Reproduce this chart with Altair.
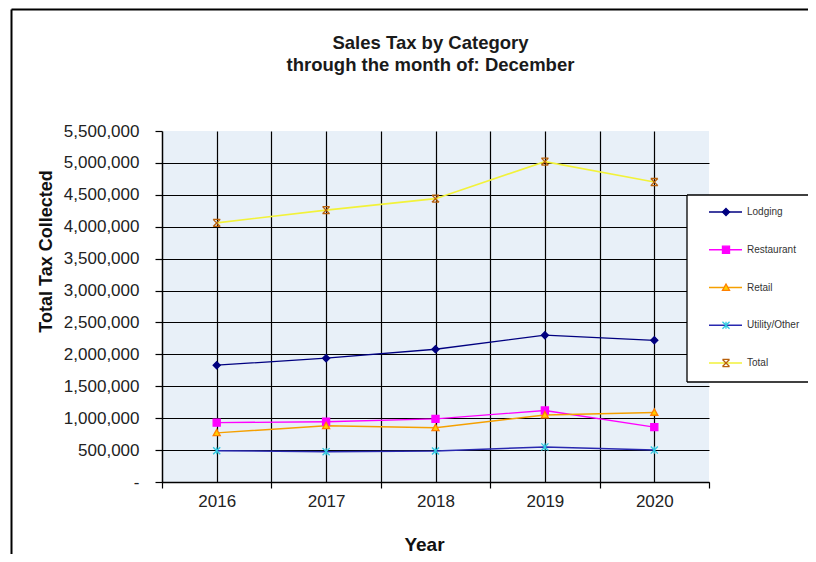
import altair as alt
import pandas as pd

# ---------------- data ----------------
years = [2016, 2017, 2018, 2019, 2020]
series = ["Lodging", "Restaurant", "Retail", "Utility/Other", "Total"]
lodging = [1830000, 1940000, 2080000, 2300000, 2220000]
restaurant = [930000, 945000, 990000, 1120000, 860000]
retail = [770000, 880000, 850000, 1050000, 1090000]
utility = [490000, 475000, 485000, 550000, 500000]
total = [4060000, 4260000, 4440000, 5020000, 4700000]
y_ticks = [0, 500000, 1000000, 1500000, 2000000, 2500000, 3000000,
           3500000, 4000000, 4500000, 5000000, 5500000]
title_lines = ["Sales Tax by Category", "through the month of: December"]

# ---------------- styles ----------------
line_colors = ["#000080", "#FF00FF", "#F5A000", "#2828B0", "#F2F23A"]
line_widths = [1.3, 1.6, 1.6, 2.2, 2.2]
marker_fill = ["#000080", "#FF00FF", "#FFD000", "transparent", "transparent"]
marker_stroke = ["#000080", "#FF00FF", "#FF8000", "#30C8E0", "#B8600A"]
marker_shapes = [
    "M0,-1L1,0L0,1L-1,0Z",
    "M-1,-1H1V1H-1Z",
    "M0,-1L1,0.8H-1Z",
    "M-1,-1L1,1M-1,1L1,-1M0,-1V1",
    "M-1,-1L1,1M-1,1L1,-1M-1,-1H1M-1,1H1",
]
marker_sizes = [50, 50, 64, 64, 90]

rows = []
for name, vals in zip(series, [lodging, restaurant, retail, utility, total]):
    for yr, v in zip(years, vals):
        rows.append({"year": yr, "series": name, "value": v})
df = pd.DataFrame(rows)
legend_df = pd.DataFrame({"series": series})
one = pd.DataFrame({"k": [0]})

W, H = 547, 351
PAD_L, PAD_T, PAD_R, PAD_B = 154, 123, 99, 72
EDGE = W + PAD_R  # right edge of the canvas, relative to the plot's left side
x_lo, x_hi = years[0] - 0.5, years[-1] + 0.5
x_vals = sorted([y - 0.5 for y in years] + years + [x_hi])

x_axis = alt.Axis(
    values=x_vals,
    title="Year",
    labelExpr="datum.value % 1 == 0 ? format(datum.value, 'd') : ''",
    labelOverlap=False,
    labelFlush=False,
    tickSize=6,
    labelPadding=5,
    tickOpacity={"condition": {"test": "datum.value % 1 == 0", "value": 0}, "value": 1},
    gridOpacity={"condition": {"test": f"datum.value <= {x_lo} || datum.value >= {x_hi}",
                               "value": 0}, "value": 1},
    titleX=262,
    titleY=68,
    titleAlign="center",
    titleBaseline="alphabetic",
    titleFontSize=19,
)
y_axis = alt.Axis(
    values=y_ticks,
    tickCount=len(y_ticks),
    title="Total Tax Collected",
    labelExpr="datum.value == 0 ? '-' : format(datum.value, ',')",
    labelOverlap=False,
    labelFlush=False,
    tickSize=7,
    labelPadding=16,
    gridOpacity={"condition": {"test": f"datum.value >= {y_ticks[-1]}", "value": 0}, "value": 1},
    titleAngle=270,
    titleX=-110.5,
    titleY=120,
    titleAlign="center",
    titleBaseline="alphabetic",
    titleFontSize=18,
)
x_enc = alt.X("year:Q", scale=alt.Scale(domain=[x_lo, x_hi], nice=False, zero=False), axis=x_axis)
y_enc = alt.Y("value:Q", scale=alt.Scale(domain=[0, y_ticks[-1]], nice=False), axis=y_axis)

color_enc = alt.Color("series:N", scale=alt.Scale(domain=series, range=line_colors), legend=None)
sw_enc = alt.StrokeWidth("series:N", scale=alt.Scale(domain=series, range=line_widths), legend=None)
fill_enc = alt.Fill("series:N", scale=alt.Scale(domain=series, range=marker_fill), legend=None)
stroke_enc = alt.Stroke("series:N", scale=alt.Scale(domain=series, range=marker_stroke), legend=None)
shape_enc = alt.Shape("series:N", scale=alt.Scale(domain=series, range=marker_shapes), legend=None)
size_enc = alt.Size("series:N", scale=alt.Scale(domain=series, range=marker_sizes), legend=None)

lines = alt.Chart(df).mark_line().encode(x=x_enc, y=y_enc, color=color_enc, strokeWidth=sw_enc)
points = alt.Chart(df).mark_point(opacity=1, strokeWidth=1.3).encode(
    x=x_enc, y=y_enc,
    fill=fill_enc, stroke=stroke_enc, shape=shape_enc, size=size_enc,
)
main = alt.layer(lines, points)

# ---------------- legend (drawn from the series list) ----------------
ly = alt.Y("series:N", sort=series,
           scale=alt.Scale(type="point", domain=series, range=[81, 232], padding=0),
           axis=None)
box = alt.Chart(one).mark_rect(fill="white").encode(
    x=alt.value(525), x2=alt.value(EDGE), y=alt.value(64), y2=alt.value(251))
box_top = alt.Chart(one).mark_rule(color="black", strokeWidth=1.3).encode(
    x=alt.value(525), x2=alt.value(EDGE), y=alt.value(64))
box_bottom = alt.Chart(one).mark_rule(color="black", strokeWidth=1.3).encode(
    x=alt.value(525), x2=alt.value(EDGE), y=alt.value(251))
box_left = alt.Chart(one).mark_rule(color="black", strokeWidth=1.3).encode(
    x=alt.value(525), y=alt.value(64), y2=alt.value(251))
lrules = alt.Chart(legend_df).mark_rule().encode(
    x=alt.value(547), x2=alt.value(580), y=ly, color=color_enc, strokeWidth=sw_enc)
lpoints = alt.Chart(legend_df).mark_point(opacity=1, strokeWidth=1.3).encode(
    x=alt.value(564), y=ly, fill=fill_enc, stroke=stroke_enc, shape=shape_enc, size=size_enc)
ltext = alt.Chart(legend_df).mark_text(
    align="left", baseline="middle", font="Liberation Sans", fontSize=10, color="#333"
).encode(x=alt.value(585), y=ly, text="series:N")

# outer frame of the original sheet
frame_top = alt.Chart(one).mark_rule(color="black", strokeWidth=2).encode(
    x=alt.value(-150.5), x2=alt.value(EDGE), y=alt.value(-121.5))
frame_left = alt.Chart(one).mark_rule(color="black", strokeWidth=2).encode(
    x=alt.value(-150.5), y=alt.value(-121.5), y2=alt.value(H + PAD_B))

legend = alt.layer(box, box_top, box_bottom, box_left, lrules, lpoints, ltext,
                   frame_top, frame_left)

chart = alt.layer(main, legend).resolve_scale(y="independent").properties(
    width=W,
    height=H,
    autosize=alt.AutoSizeParams(type="none"),
    padding={"left": PAD_L, "top": PAD_T, "right": PAD_R, "bottom": PAD_B},
    title=alt.TitleParams(
        text=title_lines,
        anchor="middle",
        font="Liberation Sans",
        fontSize=18.5,
        fontWeight="bold",
        color="#1a1a1a",
        lineHeight=22,
        offset=-65.5,
        dx=-5,
    ),
).configure_view(
    fill="#E8F0F8", strokeWidth=0
).configure_axis(
    labelFont="Liberation Sans",
    labelFontSize=17,
    labelColor="#222222",
    titleFont="Liberation Sans",
    titleFontWeight="bold",
    titleColor="#111111",
    gridColor="#000000",
    gridWidth=1.2,
    domainColor="#000000",
    domainWidth=1.5,
    tickColor="#000000",
    tickWidth=1.2,
)

chart.save("out.html", embed_options={"renderer": "svg", "actions": False})
